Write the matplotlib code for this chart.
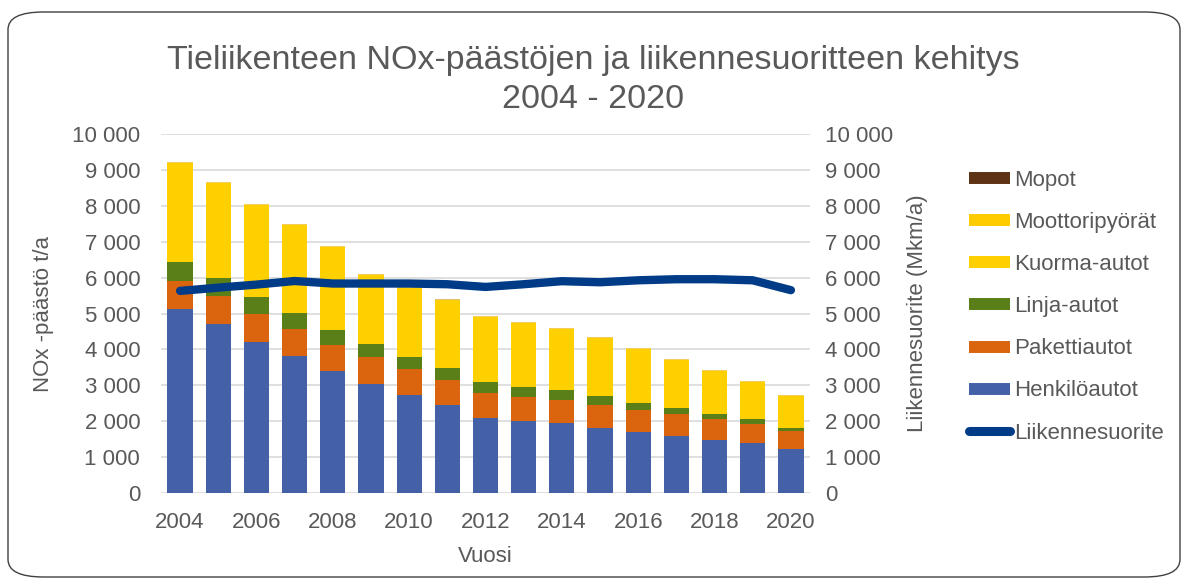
import matplotlib
matplotlib.use("Agg")
import matplotlib.pyplot as plt
from matplotlib.lines import Line2D
from matplotlib.patches import FancyBboxPatch
import numpy as np

plt.rcParams['font.family'] = ['Liberation Sans', 'DejaVu Sans']

years = list(range(2004, 2021))
henkiloautot = [5120, 4710, 4220, 3820, 3400, 3040, 2720, 2450, 2095, 2017, 1952, 1822, 1701, 1599, 1487, 1394, 1227]
pakettiautot = [790, 790, 780, 760, 725, 735, 725, 700, 685, 650, 632, 632, 613, 604, 576, 539, 492]
linja_autot = [520, 483, 465, 427, 409, 372, 344, 325, 305, 279, 278, 260, 186, 158, 140, 130, 103]
kuorma_autot = [2776, 2665, 2571, 2460, 2321, 1939, 1918, 1893, 1819, 1791, 1708, 1605, 1512, 1344, 1196, 1038, 880]
moottoripyorat = [20, 20, 20, 20, 20, 20, 20, 20, 20, 20, 20, 20, 20, 20, 20, 20, 20]
mopot = [3, 3, 3, 3, 3, 3, 3, 3, 3, 3, 3, 3, 3, 3, 3, 3, 3]
liikennesuorite = [5630, 5720, 5805, 5905, 5835, 5835, 5835, 5815, 5740, 5815, 5900, 5870, 5925, 5955, 5955, 5925, 5650]

series = [
    ("Henkilöautot", henkiloautot, "#4461A7"),
    ("Pakettiautot", pakettiautot, "#DA650E"),
    ("Linja-autot", linja_autot, "#5A7F19"),
    ("Kuorma-autot", kuorma_autot, "#FFD000"),
    ("Moottoripyörät", moottoripyorat, "#F2CE5A"),
    ("Mopot", mopot, "#E0C070"),
]
legend_colors = {"Moottoripyörät": "#FFCC00", "Mopot": "#5E3314"}
line_color = "#003B87"
txt = "#595959"
fs = 16

fig = plt.figure(figsize=(11.87, 5.85), dpi=100)
ax = fig.add_axes([161/1187, 1-493/585, 649/1187, 359/585])
ax2 = ax.twinx()

x = np.arange(len(years))
bottom = np.zeros(len(years))
for name, vals, col in series:
    ax.bar(x, vals, 0.66, bottom=bottom, color=col, linewidth=0, zorder=2)
    bottom += np.array(vals)

ax2.plot(x, liikennesuorite, color=line_color, linewidth=6, solid_capstyle="round", solid_joinstyle="round", zorder=3)

for a in (ax, ax2):
    a.set_ylim(0, 10000)
    a.set_yticks(range(0, 10001, 1000))
    a.set_yticklabels([f"{v:,}".replace(",", " ") for v in range(0, 10001, 1000)])
    for s in a.spines.values():
        s.set_visible(False)
    a.tick_params(axis="y", length=0, labelsize=fs, labelcolor=txt)
ax.tick_params(axis="y", pad=15)
ax2.tick_params(axis="y", pad=11)
ax.set_xlim(-0.5, len(years) - 0.5)
ax.set_xticks(x[::2])
ax.set_xticklabels([str(y) for y in years[::2]])
ax.tick_params(axis="x", length=0, labelsize=fs, labelcolor=txt, pad=14)
ax.grid(axis="y", color="#D9D9D9", linewidth=1.2, zorder=0)
ax.set_axisbelow(True)
ax.set_xlabel("Vuosi", fontsize=fs, color=txt, labelpad=9)
ax.set_ylabel("NOx -päästö t/a", fontsize=fs, color=txt, labelpad=13)
ax2.set_ylabel("Liikennesuorite (Mkm/a)", fontsize=fs, color=txt, labelpad=10)
ax2.set_zorder(ax.get_zorder() + 1)
ax2.patch.set_visible(False)

fig.text(0.5, 1-61/585, "Tieliikenteen NOx-päästöjen ja liikennesuoritteen kehitys",
         ha="center", va="center", fontsize=24.5, color=txt)
fig.text(0.5, 1-99/585, "2004 - 2020", ha="center", va="center", fontsize=24.5, color=txt)

handles = []
labels = []
for name, vals, col in reversed(series):
    handles.append(Line2D([0], [0], color=legend_colors.get(name, col), linewidth=8.6, solid_capstyle="butt"))
    labels.append(name)
handles.append(Line2D([0], [0], color=line_color, linewidth=6.5, solid_capstyle="round"))
labels.append("Liikennesuorite")
fig.legend(handles, labels, loc="upper left", bbox_to_anchor=(960/1187, 1-161/585),
           frameon=False, fontsize=fs, labelcolor=txt, handlelength=1.85,
           handletextpad=0.2, labelspacing=0.95, borderaxespad=0)

border = FancyBboxPatch((8/1187, 8/585), 1172/1187, 565/585, boxstyle="round,pad=0,rounding_size=0.03",
                        transform=fig.transFigure, fill=False, edgecolor="#404040", linewidth=1.0)
fig.patches.append(border)

fig.savefig("out.png", dpi=100)
